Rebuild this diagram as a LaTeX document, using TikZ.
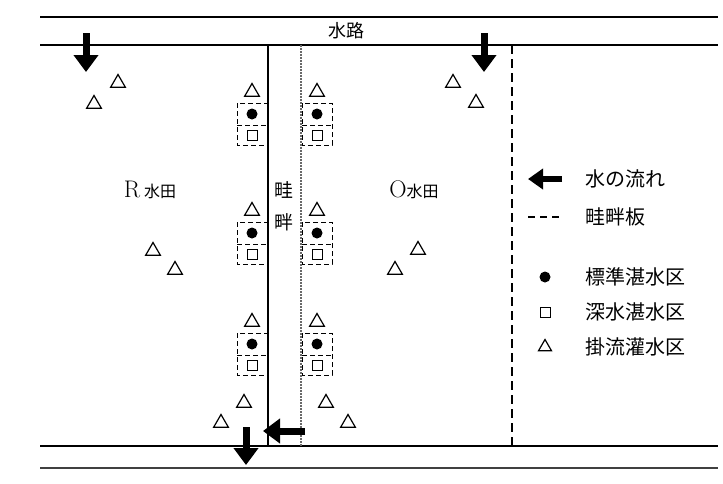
\documentclass[tikz,border=0pt]{standalone}
\usepackage{fontspec}
\newfontfamily\jp{Noto Sans CJK JP}
\usepackage{tikz}
\usetikzlibrary{arrows.meta,shapes.geometric}
\definecolor{ridgegray}{RGB}{105,105,105}

\begin{document}
\begin{tikzpicture}[x=1pt,y=-1pt,>=Stealth,
    tri/.style={regular polygon, regular polygon sides=3, draw, line width=1.2pt,
                inner sep=0pt, minimum size=17pt},
    dot/.style={circle, fill=black, inner sep=0pt, minimum size=11pt},
    sq/.style={rectangle, draw, line width=1pt, inner sep=0pt, minimum size=10pt},
    flow/.style={line width=7pt, -{Triangle[length=17pt,width=24pt]}},
    jtext/.style={font=\jp\fontsize{20}{20}\selectfont, inner sep=0pt}]
  \useasboundingbox (0,0) rectangle (723,483);

  % channels
  \draw[line width=1.5pt] (40,17) -- (718,17);
  \draw[line width=2.5pt] (40,45) -- (718,45);
  \draw[line width=2.5pt] (40,446) -- (718,446);
  \draw[line width=1.5pt, black!75] (40,468) -- (718,468);
  \node[jtext, font=\jp\fontsize{18}{18}\selectfont] (suiro) at (346,31) {水路};

  % ridge and board
  \draw[line width=1.3pt] (268,45) -- (268,446);
  \draw[ridgegray, line width=1.2pt, dash pattern=on 2pt off 1pt] (301,45) -- (301,446);
  \draw[line width=1.3pt, dash pattern=on 9pt off 5pt] (512,45) -- (512,446);
  \node[jtext, font=\jp\fontsize{19}{19}\selectfont] (ridge1) at (284,190) {畦};
  \node[jtext, font=\jp\fontsize{19}{19}\selectfont] (ridge2) at (284,222) {畔};

  % plots
  \node (rfield) at (150,190) {\fontsize{24}{24}\selectfont R\hspace{4pt}{\jp\fontsize{16}{16}\selectfont 水田}};
  \node (ofield) at (414,190) {\fontsize{24}{24}\selectfont O{\jp\fontsize{16}{16}\selectfont 水田}};

  % sampling pairs beside the ridge
  \foreach \y/\n in {92/a,211/b,322/c}{
    \foreach \x/\s in {252/l,317/r}{
      \node[tri] (t\n\s) at (\x,\y) {};
      \draw[line width=1pt, dash pattern=on 5pt off 3pt] (\x-15,\y+11) rectangle (\x+15,\y+53);
      \draw[line width=1pt, dash pattern=on 5pt off 3pt] (\x-15,\y+33) -- (\x+15,\y+33);
      \node[dot] (d\n\s) at (\x,\y+22) {};
      \node[sq] (s\n\s) at (\x,\y+43) {};
    }
  }

  % flowing-water plots
  \foreach \x/\y [count=\i] in {118/83,94/104,453/83,476/103,153/251,175/270,
                                418/250,395/270,244/403,221/423,326/403,348/423}
    \node[tri] (f\i) at (\x,\y) {};

  % water flow
  \coordinate (inR) at (86,33);   \coordinate (inRend) at (86,72);
  \coordinate (inO) at (484,33);  \coordinate (inOend) at (484,72);
  \coordinate (back) at (305,431); \coordinate (backend) at (263,431);
  \coordinate (out) at (246,427); \coordinate (outend) at (246,465);
  \draw[flow] (inR) -- (inRend);
  \draw[flow] (inO) -- (inOend);
  \draw[flow] (back) -- (backend);
  \draw[flow] (out) -- (outend);

  % legend
  \coordinate (lgA) at (562,179); \coordinate (lgB) at (528,179);
  \draw[line width=6pt, -{Triangle[length=15pt,width=20pt]}] (lgA) -- (lgB);
  \node[jtext, anchor=west] (lgflow) at (585,179) {水の流れ};
  \coordinate (lgC) at (528,217); \coordinate (lgD) at (562,217);
  \draw[line width=1.2pt, dash pattern=on 7pt off 5pt] (lgC) -- (lgD);
  \node[jtext, anchor=west] (lgboard) at (585,217) {畦畔板};
  \node[dot] (lgdot) at (545,277) {};
  \node[jtext, anchor=west] (lgstd) at (585,277) {標準湛水区};
  \node[sq] (lgsq) at (545,312) {};
  \node[jtext, anchor=west] (lgdeep) at (585,312) {深水湛水区};
  \node[tri, minimum size=15pt] (lgtri) at (545,347) {};
  \node[jtext, anchor=west] (lgrun) at (585,347) {掛流灌水区};
\end{tikzpicture}
\end{document}
